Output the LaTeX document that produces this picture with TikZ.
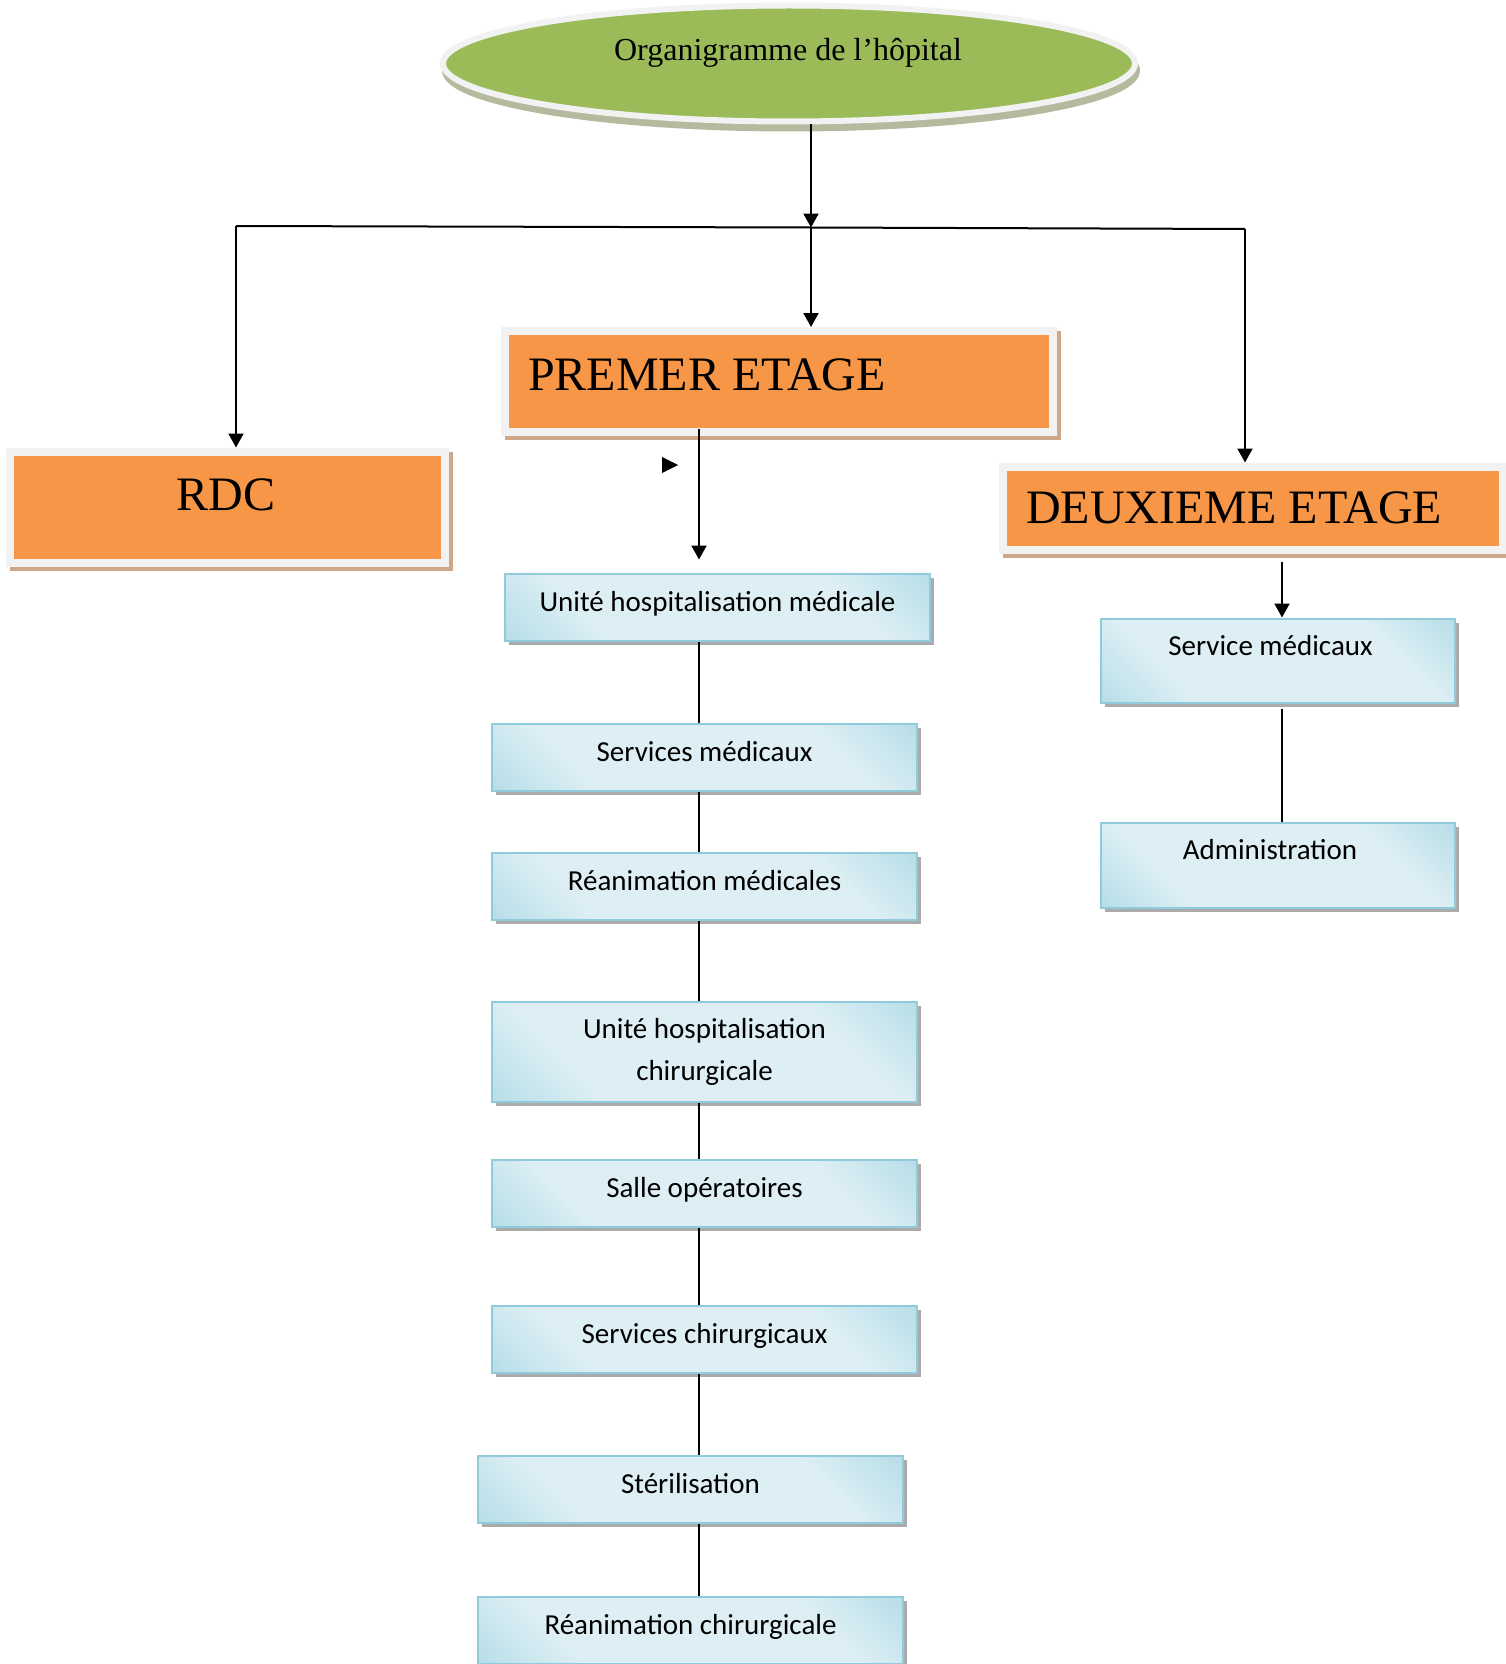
\documentclass[tikz,border=0pt]{standalone}
\usepackage{fontspec}
\setmainfont{Liberation Serif}
\newfontfamily\boxfont{Carlito}
\usetikzlibrary{arrows.meta,shadows,shapes.geometric}
\definecolor{orng}{HTML}{F79646}
\definecolor{ringg}{HTML}{F2F2F2}
\definecolor{oshadow}{HTML}{CDA787}
\definecolor{grn}{HTML}{9BBB59}
\definecolor{eshadow}{HTML}{B4BA9E}
\definecolor{bedge}{HTML}{8FCBDB}
\definecolor{blight}{HTML}{DDEFF4}
\definecolor{bdark}{HTML}{93CDDD}
\definecolor{bshadow}{HTML}{ABABAB}
\pgfdeclarehorizontalshading{bluesh}{100bp}{color(0bp)=(bdark); color(30bp)=(blight); color(70bp)=(blight); color(100bp)=(bdark)}
\tikzset{
  obox/.style={rectangle, fill=orng, draw=ringg, line width=8pt, inner sep=0pt,
    drop shadow={shadow xshift=4pt, shadow yshift=-4pt, fill=oshadow, draw=oshadow, line width=8pt, opacity=1}},
  otext/.style={inner sep=0pt, font=\fontsize{48}{56}\selectfont},
  bluebox/.style={rectangle, draw=bedge, line width=2pt, shade, shading=bluesh, shading angle=45,
    minimum width=425pt, minimum height=67pt, inner sep=0pt, align=center,
    font=\boxfont\fontsize{29}{42}\selectfont,
    drop shadow={shadow xshift=4pt, shadow yshift=-4pt, fill=bshadow, opacity=1}},
  onel/.style={text height=22pt, text depth=14pt},
  uptext/.style={text height=22pt, text depth=33pt},
  conn/.style={line width=2pt, black},
  arr/.style={conn, -{Triangle[length=14pt,width=15pt]}}
}
\begin{document}
\begin{tikzpicture}[x=1pt,y=-1pt]
\useasboundingbox (0,0) rectangle (1505,1664);
% title
\node[ellipse, fill=grn, draw=ringg, line width=6pt, minimum width=692pt, minimum height=116pt,
  drop shadow={shadow xshift=2pt, shadow yshift=-7pt, fill=eshadow, draw=eshadow, line width=6pt, opacity=1}]
  (title) at (789,63.5) {};
\node[inner sep=0pt, anchor=base, font=\fontsize{32}{38}\selectfont] (titleT) at (788,61) {Organigramme de l’hôpital};
% floors
\node[obox, minimum width=548pt, minimum height=101pt] (prem) at (779,381.5) {};
\node[otext, anchor=base west] (premT) at (528,390) {PREMER ETAGE};
\node[obox, minimum width=435pt, minimum height=111pt] (rdc) at (227,507) {};
\node[otext, anchor=base] (rdcT) at (226,510) {RDC};
\node[obox, minimum width=500pt, minimum height=83pt] (deux) at (1252.5,508) {};
\node[otext, anchor=base west] (deuxT) at (1026,523) {DEUXIEME ETAGE};
% bus
\coordinate (busL) at (236,226);
\coordinate (busM) at (811,227.5);
\coordinate (busR) at (1245,229);
\coordinate (spine) at (699,0);
\coordinate (rspine) at (1282,0);
\draw[arr] (title.south -| busM) -- (busM);
\draw[conn] (busL) -- (busM) -- (busR);
\draw[arr] (busM) -- (prem.north -| busM);
\draw[arr] (busL) -- (rdc.north -| busL);
\draw[arr] (busR) -- (deux.north -| busR);
% stray marker
\fill (662,457) -- (678,465) -- (662,473) -- cycle;
% first floor column
\node[bluebox, onel] (b1) at (717.5,607) {Unité hospitalisation médicale};
\node[bluebox, onel] (b2) at (704.5,757.5) {Services médicaux};
\node[bluebox, onel] (b3) at (704.5,886.5) {Réanimation médicales};
\node[bluebox, minimum height=100pt] (b4) at (704.5,1051.5) {Unité hospitalisation\\chirurgicale};
\node[bluebox, onel] (b5) at (704.5,1193.5) {Salle opératoires};
\node[bluebox, onel] (b6) at (704.5,1339.5) {Services chirurgicaux};
\node[bluebox, onel] (b7) at (690.5,1489.5) {Stérilisation};
\node[bluebox, onel] (b8) at (690.5,1630.5) {Réanimation chirurgicale};
\draw[arr, shorten <=-7pt, shorten >=13pt] (prem.south -| spine) -- (b1.north -| spine);
\draw[conn] (b1.south -| spine) -- (b2.north -| spine);
\draw[conn] (b2.south -| spine) -- (b3.north -| spine);
\draw[conn] (b3.south -| spine) -- (b4.north -| spine);
\draw[conn] (b4.south -| spine) -- (b5.north -| spine);
\draw[conn] (b5.south -| spine) -- (b6.north -| spine);
\draw[conn] (b6.south -| spine) -- (b7.north -| spine);
\draw[conn] (b7.south -| spine) -- (b8.north -| spine);
% second floor column
\node[bluebox, uptext, minimum width=354pt, minimum height=84pt] (r1) at (1278,660.5) {Service médicaux\hspace*{15pt}};
\node[bluebox, uptext, minimum width=354pt, minimum height=85pt] (r2) at (1278,865) {Administration\hspace*{16pt}};
\draw[arr, shorten <=8pt] (deux.south -| rspine) -- (r1.north -| rspine);
\draw[conn, shorten <=5pt] (r1.south -| rspine) -- (r2.north -| rspine);
\end{tikzpicture}
\end{document}
